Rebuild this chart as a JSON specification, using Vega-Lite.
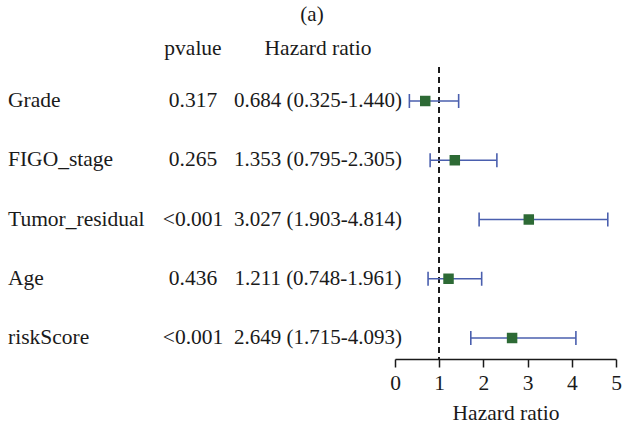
{
  "$schema": "https://vega.github.io/schema/vega-lite/v6.json",
  "width": 624,
  "height": 292,
  "autosize": {"type": "none"},
  "padding": {"top": 67, "bottom": 69, "left": 0, "right": 0},
  "title": {"text": "(a)", "font": "Liberation Serif", "fontSize": 21, "fontWeight": "normal", "color": "#1a1a1a", "anchor": "middle", "frame": "group", "offset": 13},
  "config": {"view": {"stroke": null}},
  "data": {
    "values": [
      {"variable": "Grade", "pvalue": "0.317", "hr": 0.684, "lower": 0.325, "upper": 1.44, "hrtext": "0.684 (0.325-1.440)"},
      {"variable": "FIGO_stage", "pvalue": "0.265", "hr": 1.353, "lower": 0.795, "upper": 2.305, "hrtext": "1.353 (0.795-2.305)"},
      {"variable": "Tumor_residual", "pvalue": "<0.001", "hr": 3.027, "lower": 1.903, "upper": 4.814, "hrtext": "3.027 (1.903-4.814)"},
      {"variable": "Age", "pvalue": "0.436", "hr": 1.211, "lower": 0.748, "upper": 1.961, "hrtext": "1.211 (0.748-1.961)"},
      {"variable": "riskScore", "pvalue": "<0.001", "hr": 2.649, "lower": 1.715, "upper": 4.093, "hrtext": "2.649 (1.715-4.093)"}
    ]
  },
  "encoding": {
    "y": {"field": "variable", "type": "nominal", "sort": null, "axis": null,
          "scale": {"type": "point", "domain": ["Grade", "FIGO_stage", "Tumor_residual", "Age", "riskScore"], "range": [34, 271], "padding": 0}}
  },
  "layer": [
    {
      "encoding": {},
      "layer": [
        {
          "mark": {"type": "text", "align": "left", "baseline": "middle", "font": "Liberation Serif", "fontSize": 21.5, "color": "#1a1a1a"},
          "encoding": {
            "x": {"datum": "label", "type": "nominal", "axis": null, "scale": {"type": "point", "domain": ["label", "pvalue", "hr"], "range": [8, 318], "padding": 0}},
            "text": {"field": "variable"}
          }
        },
        {
          "mark": {"type": "text", "align": "center", "baseline": "middle", "font": "Liberation Serif", "fontSize": 21.5, "color": "#1a1a1a", "dx": 30},
          "encoding": {
            "x": {"datum": "pvalue", "type": "nominal", "axis": null},
            "text": {"field": "pvalue"}
          }
        },
        {
          "mark": {"type": "text", "align": "center", "baseline": "middle", "font": "Liberation Serif", "fontSize": 21, "color": "#1a1a1a"},
          "encoding": {
            "x": {"datum": "hr", "type": "nominal", "axis": null},
            "text": {"field": "hrtext"}
          }
        },
        {
          "data": {"values": [{"head": "pvalue", "variable": "Grade"}]},
          "mark": {"type": "text", "align": "center", "baseline": "middle", "font": "Liberation Serif", "fontSize": 21.5, "color": "#1a1a1a", "dy": -52, "dx": 30},
          "encoding": {
            "x": {"datum": "pvalue", "type": "nominal", "axis": null},
            "text": {"field": "head"}
          }
        },
        {
          "data": {"values": [{"head": "Hazard ratio", "variable": "Grade"}]},
          "mark": {"type": "text", "align": "center", "baseline": "middle", "font": "Liberation Serif", "fontSize": 21.5, "color": "#1a1a1a", "dy": -52},
          "encoding": {
            "x": {"datum": "hr", "type": "nominal", "axis": null},
            "text": {"field": "head"}
          }
        }
      ]
    },
    {
      "encoding": {
        "x": {"field": "hr", "type": "quantitative",
              "scale": {"domain": [0, 5], "range": [395, 616], "nice": false, "zero": false},
              "axis": {"values": [0, 1, 2, 3, 4, 5], "grid": false, "tickSize": 8, "tickWidth": 1.5, "tickColor": "#1a1a1a", "domainColor": "#1a1a1a", "domainWidth": 1.5,
                       "labelFont": "Liberation Serif", "labelFontSize": 21.5, "labelColor": "#1a1a1a", "labelPadding": 5, "labelFlush": false,
                       "title": "Hazard ratio", "titleFont": "Liberation Serif", "titleFontSize": 21.5, "titleFontWeight": "normal", "titleColor": "#1a1a1a", "titlePadding": 9}}
      },
      "layer": [
        {
          "mark": {"type": "rule", "strokeDash": [6, 4], "strokeWidth": 1.5, "color": "#1a1a1a"},
          "encoding": {"x": {"datum": 1, "type": "quantitative"}, "y": null}
        },
        {
          "mark": {"type": "rule", "strokeWidth": 1.6, "color": "#4a5fae"},
          "encoding": {"x": {"field": "lower", "type": "quantitative"}, "x2": {"field": "upper"}}
        },
        {
          "mark": {"type": "tick", "orient": "vertical", "size": 14, "thickness": 1.6, "color": "#4a5fae", "opacity": 1},
          "encoding": {"x": {"field": "lower", "type": "quantitative"}}
        },
        {
          "mark": {"type": "tick", "orient": "vertical", "size": 14, "thickness": 1.6, "color": "#4a5fae", "opacity": 1},
          "encoding": {"x": {"field": "upper", "type": "quantitative"}}
        },
        {
          "mark": {"type": "point", "shape": "square", "filled": true, "size": 110, "color": "#2d6a35", "opacity": 1},
          "encoding": {}
        }
      ]
    }
  ],
  "resolve": {"scale": {"x": "independent"}}
}
